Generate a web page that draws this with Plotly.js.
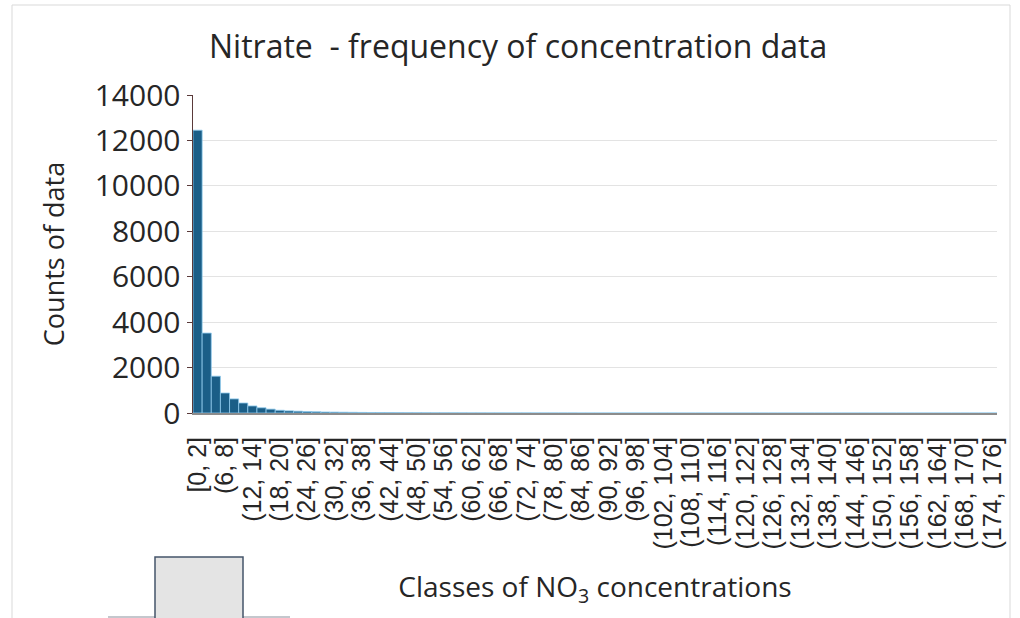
<!DOCTYPE html>
<html>
<head>
<meta charset="utf-8">
<script src="https://cdn.plot.ly/plotly-3.0.1.min.js"></script>
<style>html,body{margin:0;padding:0;background:#fff;}#chart{width:1020px;height:618px;}</style>
</head>
<body>
<div id="chart"></div>
<script>
// Bin edges (width 2), 88 classes
var binStart = 0;
var binWidth = 2;
var binCount = 88;
var categories = [];
for (var i = 0; i < binCount; i++) {
  var a = binStart + i * binWidth, b = a + binWidth;
  categories.push(i === 0 ? '[' + a + ', ' + b + ']' : '(' + a + ', ' + b + ']');
}
var counts = [
  12450, 3520, 1620, 880, 620, 440, 310, 230, 170, 120,
  95, 80, 65, 55, 45, 40, 35, 30, 25, 22,
  20, 18, 15, 13, 12, 10, 9, 8, 7, 6,
  5, 5, 4, 4, 3, 3, 3, 2, 2, 2,
  2, 2, 1, 1, 1, 1, 1, 1, 1, 1,
  1, 1, 1, 0, 0, 1, 0, 0, 0, 0,
  0, 0, 0, 0, 0, 0, 0, 0, 0, 0,
  0, 0, 0, 0, 0, 0, 0, 0, 0, 0,
  0, 0, 0, 0, 0, 0, 0, 1
];
var tickEvery = 3;
var tickVals = categories.filter(function(c, i){ return i % tickEvery === 0; });
var yTicks = [0, 2000, 4000, 6000, 8000, 10000, 12000, 14000];

// pixel -> paper helpers for decorations
var L = 193, R = 997, T = 95, B = 413;
function px(x){ return (x - L) / (R - L); }
function py(y){ return (B - y) / (B - T); }

var trace = {
  type: 'bar',
  x: categories,
  y: counts,
  marker: { color: '#1b5e87', line: { color: '#8fcaee', width: 0.8 } },
  hoverinfo: 'x+y'
};

var layout = {
  width: 1020, height: 618,
  margin: { l: L, r: 1020 - R, t: T, b: 618 - B },
  paper_bgcolor: '#ffffff', plot_bgcolor: '#ffffff',
  bargap: 0,
  showlegend: false,
  font: { family: 'Open Sans, sans-serif', color: '#262626' },
  title: {
    text: 'Nitrate  - frequency of concentration data',
    font: { size: 32, color: '#262626', family: 'Open Sans, sans-serif' },
    x: 0.508, xanchor: 'center', y: 0.925, yanchor: 'middle'
  },
  xaxis: {
    type: 'category',
    range: [-0.5, binCount - 0.5],
    tickmode: 'array', tickvals: tickVals, ticktext: tickVals,
    tickangle: -90,
    tickfont: { size: 25, color: '#262626', family: 'Liberation Sans, Arial, sans-serif' },
    showgrid: false,
    showline: true, linecolor: '#8c8c8c', linewidth: 2,
    ticks: 'outside', ticklen: 12, tickcolor: 'rgba(0,0,0,0)',
    title: { text: 'Classes of NO<sub>3</sub> concentrations', font: { size: 28, color: '#262626' }, standoff: 29 },
    automargin: false
  },
  yaxis: {
    range: [0, 14000],
    tickmode: 'array', tickvals: yTicks, ticktext: yTicks.map(String),
    tickfont: { size: 30, color: '#262626' },
    showgrid: true, gridcolor: '#e3e3e3', gridwidth: 1,
    showline: true, linecolor: '#5a3a3a', linewidth: 1.5,
    ticks: 'outside', ticklen: 5, tickcolor: '#5a3a3a',
    zeroline: false,
    title: { text: 'Counts of data', font: { size: 27, color: '#262626' }, standoff: 22 },
    automargin: false
  },
  shapes: [
    { type: 'rect', xref: 'paper', yref: 'paper', x0: px(12), x1: px(1010), y0: py(5), y1: py(640),
      line: { color: '#d9d9d9', width: 1 }, fillcolor: 'rgba(0,0,0,0)', layer: 'below' },
    { type: 'line', xref: 'paper', yref: 'paper', x0: px(108), x1: px(290), y0: py(617), y1: py(617),
      line: { color: '#b0b4bc', width: 1.5 } },
    { type: 'rect', xref: 'paper', yref: 'paper', x0: px(155), x1: px(243), y0: py(557), y1: py(622),
      line: { color: '#44546a', width: 1.5 }, fillcolor: '#e4e4e4' }
  ]
};

Plotly.newPlot('chart', [trace], layout, { displayModeBar: false, staticPlot: true });
</script>
</body>
</html>
